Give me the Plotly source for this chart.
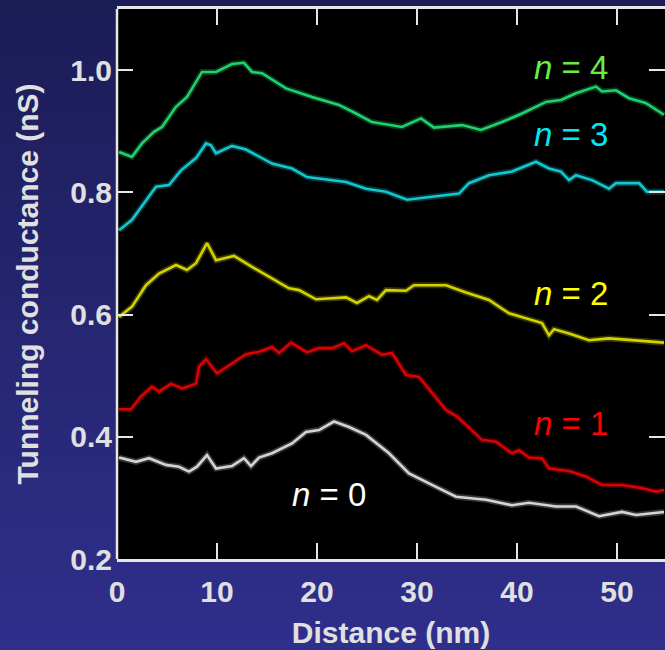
import plotly.graph_objects as go

# Tunneling conductance profiles along the distance, one trace per level n
distance_n4 = [0.2, 1.5, 2.5, 3.7, 4.5, 5.9, 7.0, 8.5, 9.9, 11.5, 12.7, 13.5, 14.5, 16.9, 19.5,
               22.2, 23.9, 25.5, 28.5, 30.4, 31.7, 34.5, 36.4, 38.5, 40.5, 42.9, 44.4, 45.9,
               47.9, 48.5, 49.9, 51.2, 52.9, 54.7]
conductance_n4 = [0.866, 0.858, 0.880, 0.899, 0.907, 0.940, 0.956, 0.997, 0.997, 1.010, 1.012,
                  0.997, 0.995, 0.970, 0.956, 0.943, 0.929, 0.915, 0.907, 0.921, 0.906, 0.910,
                  0.902, 0.915, 0.929, 0.948, 0.951, 0.962, 0.973, 0.965, 0.967, 0.954, 0.946,
                  0.927]

distance_n3 = [0.2, 1.5, 2.7, 3.9, 5.2, 6.4, 7.9, 8.9, 9.4, 9.9, 11.5, 12.9, 15.5, 17.5, 19.0,
               21.2, 22.9, 24.9, 26.9, 29.0, 31.9, 34.2, 35.2, 37.2, 39.5, 41.9, 43.2, 44.4,
               45.2, 45.9, 47.5, 49.2, 49.9, 52.2, 53.0, 54.7]
conductance_n3 = [0.738, 0.755, 0.782, 0.809, 0.812, 0.836, 0.856, 0.880, 0.877, 0.864, 0.876,
                  0.870, 0.847, 0.839, 0.825, 0.820, 0.817, 0.806, 0.801, 0.788, 0.794, 0.798,
                  0.815, 0.828, 0.834, 0.850, 0.839, 0.834, 0.820, 0.828, 0.820, 0.806, 0.815,
                  0.815, 0.801, 0.801]

distance_n2 = [0.2, 1.5, 2.9, 4.2, 5.9, 7.0, 7.9, 9.0, 9.9, 11.7, 13.5, 15.5, 17.2, 18.2, 19.9,
               22.9, 24.0, 25.2, 26.0, 26.9, 28.9, 29.7, 32.9, 34.9, 37.2, 39.2, 41.9, 42.5,
               43.2, 43.7, 45.2, 47.2, 49.2, 51.9, 54.7]
conductance_n2 = [0.596, 0.613, 0.648, 0.667, 0.681, 0.673, 0.684, 0.717, 0.689, 0.696, 0.678,
                  0.659, 0.643, 0.640, 0.625, 0.628, 0.619, 0.630, 0.624, 0.640, 0.639, 0.648,
                  0.648, 0.636, 0.624, 0.602, 0.588, 0.586, 0.566, 0.576, 0.569, 0.558, 0.561,
                  0.558, 0.554]

distance_n1 = [0.2, 1.4, 2.4, 3.5, 4.2, 5.4, 6.5, 7.9, 8.2, 8.9, 10.0, 11.5, 12.9, 14.2, 15.5,
               16.2, 17.4, 19.0, 20.2, 21.5, 22.7, 23.5, 24.9, 26.5, 27.5, 28.9, 30.2, 32.9,
               34.0, 36.5, 37.9, 39.5, 40.2, 41.2, 42.5, 43.2, 45.2, 46.9, 48.5, 50.5, 52.5,
               53.9, 54.7]
conductance_n1 = [0.445, 0.445, 0.466, 0.482, 0.474, 0.487, 0.479, 0.487, 0.515, 0.527, 0.504,
                  0.520, 0.535, 0.539, 0.547, 0.537, 0.554, 0.538, 0.545, 0.545, 0.553, 0.540,
                  0.550, 0.534, 0.537, 0.501, 0.498, 0.444, 0.433, 0.395, 0.392, 0.373, 0.378,
                  0.366, 0.365, 0.348, 0.344, 0.335, 0.321, 0.321, 0.316, 0.310, 0.313]

distance_n0 = [0.2, 1.9, 3.2, 4.9, 6.2, 7.2, 8.0, 9.0, 9.9, 11.5, 12.7, 13.4, 14.2, 15.5, 17.5,
               18.9, 20.2, 21.7, 23.2, 24.9, 27.2, 29.2, 31.9, 33.9, 36.9, 39.5, 41.2, 43.9,
               45.9, 48.2, 50.5, 51.9, 54.7]
conductance_n0 = [0.366, 0.359, 0.365, 0.354, 0.351, 0.343, 0.351, 0.370, 0.348, 0.352, 0.365,
                  0.352, 0.366, 0.373, 0.389, 0.408, 0.411, 0.425, 0.416, 0.403, 0.373, 0.340,
                  0.318, 0.302, 0.297, 0.288, 0.292, 0.286, 0.286, 0.270, 0.277, 0.272, 0.277]

x_ticks = [0, 10, 20, 30, 40, 50]
y_ticks = [0.2, 0.4, 0.6, 0.8, 1.0]

series = [
    (distance_n0, conductance_n0, "#d4d4d4"),
    (distance_n1, conductance_n1, "#dc0000"),
    (distance_n2, conductance_n2, "#d2d200"),
    (distance_n3, conductance_n3, "#12c8d0"),
    (distance_n4, conductance_n4, "#1ed26e"),
]

# level labels: (text, x, y, colour)
labels = [
    ("<i>n</i> = 4", 45.4, 1.005, "#66ee44"),
    ("<i>n</i> = 3", 45.4, 0.895, "#00e6f2"),
    ("<i>n</i> = 2", 45.4, 0.635, "#ffff00"),
    ("<i>n</i> = 1", 45.4, 0.422, "#ff0000"),
    ("<i>n</i> = 0", 21.2, 0.306, "#ffffff"),
]

fig = go.Figure()
for xs, ys, col in series:
    # soft halo beneath each line
    fig.add_trace(go.Scatter(x=xs, y=ys, mode="lines", hoverinfo="skip",
                             line=dict(color=col, width=6), opacity=0.25, showlegend=False))
    fig.add_trace(go.Scatter(x=xs, y=ys, mode="lines",
                             line=dict(color=col, width=2.6), showlegend=False))

for text, x, y, col in labels:
    fig.add_annotation(x=x, y=y, text=text, showarrow=False,
                       font=dict(family="Liberation Sans, Arial, sans-serif", size=33, color=col))

# navy backdrop shaded from top to bottom, then the black plotting area
shapes = []
n_bands = 65
x_left, x_right = -117 / 548, 1.0
y_bottom, y_top = -91 / 550, 559 / 550
top_rgb, bot_rgb = (28, 28, 86), (47, 47, 140)
for i in range(n_bands):
    t = i / (n_bands - 1)
    r = round(top_rgb[0] + (bot_rgb[0] - top_rgb[0]) * t)
    g = round(top_rgb[1] + (bot_rgb[1] - top_rgb[1]) * t)
    b = round(top_rgb[2] + (bot_rgb[2] - top_rgb[2]) * t)
    y1 = y_top - (y_top - y_bottom) * i / n_bands
    y0 = y_top - (y_top - y_bottom) * (i + 1) / n_bands
    shapes.append(dict(type="rect", xref="paper", yref="paper", x0=x_left, x1=x_right,
                       y0=y0 - 0.002, y1=y1 + 0.002, fillcolor=f"rgb({r},{g},{b})",
                       line=dict(width=0), layer="below"))
shapes.append(dict(type="rect", xref="x domain", yref="y domain", x0=0, x1=1.01, y0=0, y1=1,
                   fillcolor="black", line=dict(width=0), layer="below"))
# left frame edge
shapes.append(dict(type="line", xref="x domain", yref="y domain", x0=0, x1=0, y0=0, y1=1,
                   line=dict(color="#e6e6e6", width=2.5), layer="above"))

tick_font = dict(family="Liberation Sans, Arial, sans-serif", size=30, color="#e0e0e0",
                 weight="bold")
title_font = dict(family="Liberation Sans, Arial, sans-serif", size=30, color="#e0e0e0",
                  weight="bold")

fig.update_layout(
    width=665, height=650,
    margin=dict(l=117, r=0, t=9, b=91),
    paper_bgcolor="#22226e",
    plot_bgcolor="black",
    shapes=shapes,
    xaxis=dict(range=[0, 54.8], tickvals=x_ticks, ticks="inside", ticklen=16, tickwidth=2,
               tickcolor="#e6e6e6", showline=True, linecolor="#e6e6e6", linewidth=2.5,
               mirror="ticks", showgrid=False, zeroline=False, tickfont=tick_font,
               ticklabelstandoff=4,
               title=dict(text="Distance (nm)", font=title_font, standoff=16)),
    yaxis=dict(range=[0.2, 1.1], tickvals=y_ticks, tickformat=".1f", ticks="inside",
               ticklen=16, tickwidth=2, tickcolor="#e6e6e6", showline=False,
               mirror="ticks", showgrid=False, zeroline=False, tickfont=tick_font,
               ticklabelstandoff=4,
               title=dict(text="Tunneling conductance (nS)", font=title_font, standoff=22)),
)

fig.write_html("out.html")
